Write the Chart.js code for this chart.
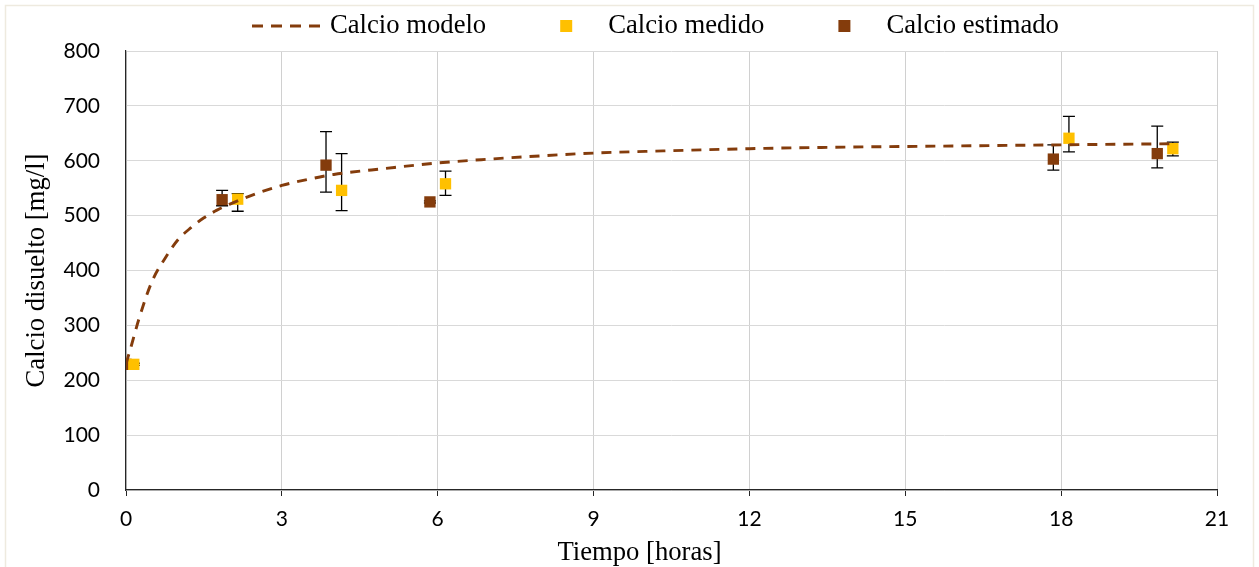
<!DOCTYPE html>
<html lang="es">
<head>
<meta charset="utf-8">
<title>Calcio disuelto</title>
<script src="https://cdn.jsdelivr.net/npm/chart.js@4/dist/chart.umd.min.js"></script>
<style>
  body { margin: 0; background: #fff; }
  canvas { display: block; }
</style>
</head>
<body>
<canvas id="grafico" width="1259" height="567"></canvas>
<script>
// Curva del modelo
const modeloX = [0, 0.1, 0.25, 0.5, 0.75, 1, 1.25, 1.5, 1.75, 2, 2.5, 3, 3.5, 4, 5, 6, 7, 8, 9, 10, 12, 14, 16, 18, 20.15];
const modeloY = [230, 262, 312, 380, 422, 456, 478, 496, 510, 521, 540, 555, 566, 575, 586, 596, 603, 609, 614, 617, 622, 625, 627, 629, 631];

// Calcio medido con barras de error (arriba / abajo)
const medidoX = [0.15, 2.15, 4.15, 6.15, 18.15, 20.15];
const medidoY = [229, 530, 546, 558, 641, 622];
const medidoErrSup = [2, 10, 67, 23, 40, 12];
const medidoErrInf = [2, 22, 37, 21, 25, 13];

// Calcio estimado con barras de error
const estimadoX = [0, 1.85, 3.85, 5.85, 17.85, 19.85];
const estimadoY = [229, 529, 592, 525, 603, 613];
const estimadoErrSup = [0, 17, 61, 2, 26, 50];
const estimadoErrInf = [0, 11, 49, 2, 20, 26];

const ticksX = [0, 3, 6, 9, 12, 15, 18, 21];

const colorModelo = '#843C0C';
const colorMedido = '#FFC000';
const colorEstimado = '#843C0C';

const serif = "'Liberation Serif', 'Times New Roman', serif";
const sans = "Lato, 'Open Sans', sans-serif";

// junta x e y en puntos para Chart.js
function puntos(xs, ys) {
    return xs.map((x, i) => ({ x: x, y: ys[i] }));
}

// Dibuja las barras de error antes de los marcadores
const barrasError = {
    id: 'barrasError',
    beforeDatasetsDraw(chart) {
        const { ctx, scales: { x, y } } = chart;
        ctx.save();
        ctx.strokeStyle = '#000';
        ctx.lineWidth = 1.3;
        chart.data.datasets.forEach(ds => {
            if (!ds.errSup) return;
            ds.data.forEach((p, j) => {
                if (!ds.errSup[j] && !ds.errInf[j]) return;
                const px = x.getPixelForValue(p.x);
                const arriba = y.getPixelForValue(p.y + ds.errSup[j]);
                const abajo = y.getPixelForValue(p.y - ds.errInf[j]);
                ctx.beginPath();
                ctx.moveTo(px, arriba);
                ctx.lineTo(px, abajo);
                ctx.moveTo(px - 6, arriba);
                ctx.lineTo(px + 6, arriba);
                ctx.moveTo(px - 6, abajo);
                ctx.lineTo(px + 6, abajo);
                ctx.stroke();
            });
        });
        ctx.restore();
    }
};

// Marco claro alrededor del grafico, como en Excel
const marco = {
    id: 'marco',
    beforeDraw(chart) {
        const ctx = chart.ctx;
        ctx.save();
        ctx.strokeStyle = '#EEEADF';
        ctx.lineWidth = 1.5;
        ctx.strokeRect(5.5, 5.5, chart.width - 11, chart.height + 10);
        ctx.restore();
    }
};

// Leyenda estilo Excel: linea discontinua larga y cuadrados pequenos
const leyenda = {
    id: 'leyenda',
    afterDraw(chart) {
        const ctx = chart.ctx;
        const yMedio = 26;
        let x = 252;
        ctx.save();
        ctx.font = '26.67px ' + serif;
        ctx.textBaseline = 'middle';
        ctx.fillStyle = '#000';
        chart.data.datasets.forEach((ds, i) => {
            if (i > 0) x += 80;
            let xTexto;
            if (ds.type === 'line') {
                ctx.strokeStyle = ds.borderColor;
                ctx.lineWidth = ds.borderWidth;
                ctx.setLineDash([11, 8]);
                ctx.beginPath();
                ctx.moveTo(x, yMedio);
                ctx.lineTo(x + 68, yMedio);
                ctx.stroke();
                ctx.setLineDash([]);
                xTexto = x + 78;
            } else {
                ctx.fillStyle = ds.backgroundColor;
                ctx.fillRect(x - 6, yMedio - 6, 12, 12);
                xTexto = x + 42;
            }
            ctx.fillStyle = '#000';
            ctx.textAlign = 'left';
            ctx.fillText(ds.label, xTexto, yMedio);
            x = xTexto + ctx.measureText(ds.label).width;
        });
        // titulo del eje x, centrado en el marco como en el original
        ctx.textAlign = 'center';
        ctx.fillText('Tiempo [horas]', chart.width / 2 + 10, 553);
        ctx.restore();
    }
};

new Chart(document.getElementById('grafico'), {
    data: {
        datasets: [
            {
                type: 'line',
                label: 'Calcio modelo',
                data: puntos(modeloX, modeloY),
                borderColor: colorModelo,
                backgroundColor: colorModelo,
                borderWidth: 2.9,
                borderDash: [10, 8],
                pointRadius: 0,
                fill: false,
                cubicInterpolationMode: 'monotone'
            },
            {
                type: 'scatter',
                label: 'Calcio medido',
                data: puntos(medidoX, medidoY),
                errSup: medidoErrSup,
                errInf: medidoErrInf,
                backgroundColor: colorMedido,
                borderColor: colorMedido,
                borderWidth: 0,
                pointStyle: 'rect',
                pointRadius: 8
            },
            {
                type: 'scatter',
                label: 'Calcio estimado',
                data: puntos(estimadoX, estimadoY),
                errSup: estimadoErrSup,
                errInf: estimadoErrInf,
                backgroundColor: colorEstimado,
                borderColor: colorEstimado,
                borderWidth: 0,
                pointStyle: 'rect',
                pointRadius: 8
            }
        ]
    },
    options: {
        responsive: false,
        animation: false,
        layout: { padding: { top: 51, left: 24, right: 42, bottom: 0 } },
        plugins: {
            tooltip: { enabled: false },
            legend: { display: false }
        },
        scales: {
            x: {
                type: 'linear',
                min: 0,
                max: 21,
                afterBuildTicks: axis => { axis.ticks = ticksX.map(v => ({ value: v })); },
                afterFit: axis => { axis.height = 77; },
                ticks: {
                    color: '#000',
                    padding: 11,
                    font: { family: sans, size: 21 }
                },
                grid: {
                    color: '#D0D0D0',
                    tickColor: '#262626',
                    tickLength: 6
                },
                border: { color: '#262626', width: 1.2 }
            },
            y: {
                min: 0,
                max: 800,
                afterFit: axis => { axis.width = 102; },
                ticks: {
                    stepSize: 100,
                    color: '#000',
                    padding: 26,
                    font: { family: sans, size: 21 }
                },
                grid: {
                    color: '#D9D9D9',
                    drawTicks: false
                },
                border: { color: '#262626', width: 1.2 },
                title: {
                    display: true,
                    text: 'Calcio disuelto [mg/l]',
                    color: '#000',
                    font: { family: serif, size: 26.67, lineHeight: 1 },
                    padding: { top: 0, bottom: 0 }
                }
            }
        }
    },
    plugins: [barrasError, marco, leyenda]
});
</script>
</body>
</html>
